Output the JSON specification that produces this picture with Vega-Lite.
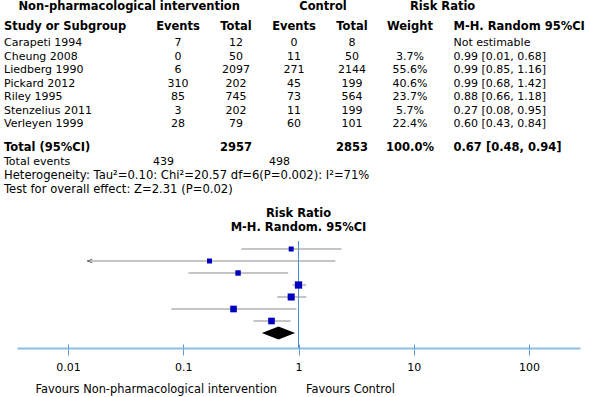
{
  "$schema": "https://vega.github.io/schema/vega-lite/v6.json",
  "width": 590,
  "height": 397,
  "autosize": "none",
  "padding": 0,
  "background": "white",
  "config": {
    "view": {"stroke": null},
    "text": {"font": "DejaVu Sans", "fontSize": 11, "baseline": "middle", "color": "#000000"},
    "axis": {"labelFont": "DejaVu Sans", "titleFont": "DejaVu Sans"}
  },
  "layer": [
    {
      "encoding": {
        "x": {
          "field": "col", "type": "nominal", "axis": null,
          "scale": {
            "type": "point", "padding": 0, "range": [4, 453.5],
            "domain": ["study", "grp1", "k2", "k3", "k4", "k5", "k6", "k7", "k8", "k9", "k10", "tev1", "ev1", "k13", "k14", "k15", "tot1", "k17", "k18", "tev2", "ev2", "k21", "ctrl", "k23", "tot2", "k25", "k26", "k27", "weight", "k29", "k30", "ci"]
          }
        },
        "text": {"field": "txt", "type": "nominal"}
      },
      "layer": [
        {
          "encoding": {
            "y": {"field": "row", "type": "nominal", "axis": null,
                  "scale": {"type": "point", "padding": 0, "domain": ["h1", "h2"], "range": [7, 27]}}
          },
          "layer": [
            {
              "data": {"values": [
                {"row": "h1", "col": "ctrl", "txt": "Control"},
                {"row": "h2", "col": "ev1", "txt": "Events"},
                {"row": "h2", "col": "tot1", "txt": "Total"},
                {"row": "h2", "col": "ev2", "txt": "Events"},
                {"row": "h2", "col": "tot2", "txt": "Total"},
                {"row": "h2", "col": "weight", "txt": "Weight"}
              ]},
              "mark": {"type": "text", "fontWeight": "bold", "fontSize": 11.5, "align": "center"}
            },
            {
              "data": {"values": [
                {"row": "h1", "col": "grp1", "txt": "Non-pharmacological intervention"},
                {"row": "h1", "col": "weight", "txt": "Risk Ratio"},
                {"row": "h2", "col": "study", "txt": "Study or Subgroup"},
                {"row": "h2", "col": "ci", "txt": "M-H. Random 95%CI"}
              ]},
              "mark": {"type": "text", "fontWeight": "bold", "fontSize": 11.5, "align": "left"}
            }
          ]
        },
        {
          "data": {"values": [
            {"study": "Carapeti 1994", "ev1": 7, "tot1": 12, "ev2": 0, "tot2": 8, "weight": "", "ci": "Not estimable"},
            {"study": "Cheung 2008", "ev1": 0, "tot1": 50, "ev2": 11, "tot2": 50, "weight": "3.7%", "ci": "0.99 [0.01, 0.68]"},
            {"study": "Liedberg 1990", "ev1": 6, "tot1": 2097, "ev2": 271, "tot2": 2144, "weight": "55.6%", "ci": "0.99 [0.85, 1.16]"},
            {"study": "Pickard 2012", "ev1": 310, "tot1": 202, "ev2": 45, "tot2": 199, "weight": "40.6%", "ci": "0.99 [0.68, 1.42]"},
            {"study": "Riley 1995", "ev1": 85, "tot1": 745, "ev2": 73, "tot2": 564, "weight": "23.7%", "ci": "0.88 [0.66, 1.18]"},
            {"study": "Stenzelius 2011", "ev1": 3, "tot1": 202, "ev2": 11, "tot2": 199, "weight": "5.7%", "ci": "0.27 [0.08, 0.95]"},
            {"study": "Verleyen 1999", "ev1": 28, "tot1": 79, "ev2": 60, "tot2": 101, "weight": "22.4%", "ci": "0.60 [0.43, 0.84]"}
          ]},
          "encoding": {
            "y": {"field": "study", "type": "nominal", "axis": null,
                  "scale": {"type": "point", "padding": 0, "range": [43, 124],
                            "domain": ["Carapeti 1994", "Cheung 2008", "Liedberg 1990", "Pickard 2012", "Riley 1995", "Stenzelius 2011", "Verleyen 1999"]}}
          },
          "layer": [
            {
              "transform": [{"fold": ["study", "ci"], "as": ["col", "txt"]}],
              "mark": {"type": "text", "align": "left"}
            },
            {
              "transform": [{"fold": ["ev1", "tot1", "ev2", "tot2", "weight"], "as": ["col", "txt"]}],
              "mark": {"type": "text", "align": "center"}
            }
          ]
        },
        {
          "encoding": {
            "y": {"field": "row", "type": "nominal", "axis": null,
                  "scale": {"type": "point", "padding": 0, "domain": ["total", "events", "het", "test"], "range": [148, 190]}}
          },
          "layer": [
            {
              "data": {"values": [
                {"row": "total", "col": "study", "txt": "Total (95%CI)"},
                {"row": "total", "col": "ci", "txt": "0.67 [0.48, 0.94]"}
              ]},
              "mark": {"type": "text", "fontWeight": "bold", "fontSize": 11.5, "align": "left"}
            },
            {
              "data": {"values": [
                {"row": "total", "col": "tot1", "txt": "2957"},
                {"row": "total", "col": "tot2", "txt": "2853"},
                {"row": "total", "col": "weight", "txt": "100.0%"}
              ]},
              "mark": {"type": "text", "fontWeight": "bold", "fontSize": 11.5, "align": "center"}
            },
            {
              "data": {"values": [
                {"row": "events", "col": "study", "txt": "Total events"}
              ]},
              "mark": {"type": "text", "align": "left"}
            },
            {
              "data": {"values": [
                {"row": "het", "col": "study", "txt": "Heterogeneity: Tau²=0.10: Chi²=20.57 df=6(P=0.002): I²=71%"},
                {"row": "test", "col": "study", "txt": "Test for overall effect: Z=2.31 (P=0.02)"}
              ]},
              "mark": {"type": "text", "align": "left", "fontSize": 11.6}
            },
            {
              "data": {"values": [
                {"row": "events", "col": "tev1", "txt": "439"},
                {"row": "events", "col": "tev2", "txt": "498"}
              ]},
              "mark": {"type": "text", "align": "center"}
            }
          ]
        }
      ],
      "resolve": {"scale": {"y": "independent"}}
    },
    {
      "encoding": {
        "y": {"field": "row", "type": "nominal", "axis": null,
              "scale": {"type": "point", "padding": 0, "range": [249, 333],
                        "domain": ["Carapeti 1994", "Cheung 2008", "Liedberg 1990", "Pickard 2012", "Riley 1995", "Stenzelius 2011", "Verleyen 1999", "Total"]}}
      },
      "layer": [
        {
          "data": {"values": [{"ref": 1}]},
          "mark": {"type": "rule", "color": "#4f8fd0", "strokeWidth": 1, "yOffset": -8, "y2Offset": 15},
          "encoding": {
            "x": {"field": "ref", "type": "quantitative",
                  "scale": {"type": "log", "domain": [0.003611, 276.9], "range": [17, 580], "nice": false},
                  "axis": {
                    "orient": "bottom", "offset": -49, "values": [0.01, 0.1, 1, 10, 100], "format": "~g",
                    "grid": false, "domain": true, "domainColor": "#8dbde3", "domainWidth": 2,
                    "ticks": true, "tickColor": "#5b9bd5", "tickSize": 7, "tickWidth": 1,
                    "labelFontSize": 11, "labelColor": "#000000", "labelPadding": 6, "labelFlush": false, "labelOverlap": false,
                    "title": "Favours Non-pharmacological intervention\u00a0\u00a0\u00a0\u00a0\u00a0\u00a0\u00a0\u00a0Favours Control",
                    "titleFontSize": 11.4, "titleFontWeight": "normal", "titleColor": "#000000",
                    "titleX": 35, "titleY": 41, "titleAlign": "left", "titleAnchor": "start", "titleBaseline": "middle"
                  }},
            "y": {"datum": "Carapeti 1994", "type": "nominal"},
            "y2": {"datum": "Total"}
          }
        },
        {
          "data": {"values": [{"ref": 1}]},
          "mark": {"type": "point", "opacity": 0},
          "encoding": {
            "x": {"field": "ref", "type": "quantitative",
                  "scale": {"type": "log", "domain": [0.003611, 276.9], "range": [17, 580], "nice": false},
                  "axis": {
                    "orient": "bottom", "offset": -53, "values": [0.01, 0.1, 1, 10, 100],
                    "grid": false, "domain": false, "labels": false, "title": null,
                    "ticks": true, "tickColor": "#5b9bd5", "tickSize": 4, "tickWidth": 1
                  }},
            "y": {"datum": "Total", "type": "nominal"}
          }
        },
        {
          "data": {"values": [
            {"row": "Carapeti 1994", "est": 0.864, "lo": 0.32, "hi": 2.36, "w": 3.7},
            {"row": "Cheung 2008", "est": 0.169, "lo": 0.0147, "hi": 2.09, "w": 3.7},
            {"row": "Liedberg 1990", "est": 0.299, "lo": 0.111, "hi": 0.814, "w": 5.7},
            {"row": "Pickard 2012", "est": 1.0, "lo": 0.887, "hi": 1.166, "w": 55.6},
            {"row": "Riley 1995", "est": 0.864, "lo": 0.653, "hi": 1.17, "w": 40.6},
            {"row": "Stenzelius 2011", "est": 0.273, "lo": 0.079, "hi": 0.96, "w": 23.7},
            {"row": "Verleyen 1999", "est": 0.583, "lo": 0.407, "hi": 0.853, "w": 22.4}
          ]},
          "layer": [
            {
              "mark": {"type": "rule", "color": "#8a8a8a", "strokeWidth": 1},
              "encoding": {
                "x": {"field": "lo", "type": "quantitative", "axis": null,
                      "scale": {"type": "log", "domain": [0.003611, 276.9], "range": [17, 580], "nice": false}},
                "x2": {"field": "hi"}
              }
            },
            {
              "transform": [{"filter": "datum.lo < 0.02"}],
              "mark": {"type": "point", "shape": "M0,0L1,-0.35M0,0L1,0.35", "size": 100, "filled": false, "stroke": "#6a6a6a", "strokeWidth": 1, "opacity": 1},
              "encoding": {
                "x": {"field": "lo", "type": "quantitative", "axis": null,
                      "scale": {"type": "log", "domain": [0.003611, 276.9], "range": [17, 580], "nice": false}}
              }
            },
            {
              "mark": {"type": "point", "shape": "square", "filled": true, "color": "#0000c0", "opacity": 1, "strokeWidth": 0},
              "encoding": {
                "x": {"field": "est", "type": "quantitative", "axis": null,
                      "scale": {"type": "log", "domain": [0.003611, 276.9], "range": [17, 580], "nice": false}},
                "size": {"field": "w", "type": "quantitative", "legend": null,
                         "scale": {"type": "log", "domain": [3.7, 55.6], "range": [25, 53]}}
              }
            }
          ]
        },
        {
          "data": {"values": [{"row": "Total", "est": 0.67, "lo": 0.48, "hi": 0.94}]},
          "mark": {"type": "point", "shape": "M-1,0L0,-0.39L1,0L0,0.39Z", "size": 1111, "filled": true, "color": "#000000", "opacity": 1, "strokeWidth": 0},
          "encoding": {
            "x": {"field": "est", "type": "quantitative", "axis": null,
                  "scale": {"type": "log", "domain": [0.003611, 276.9], "range": [17, 580], "nice": false}}
          }
        }
      ],
      "resolve": {"axis": {"x": "independent"}}
    },
    {
      "data": {"values": [
        {"row": "t1", "txt": "Risk Ratio", "ref": 1},
        {"row": "t2", "txt": "M-H. Random. 95%CI", "ref": 1}
      ]},
      "mark": {"type": "text", "fontWeight": "bold", "fontSize": 11.5, "align": "center"},
      "encoding": {
        "x": {"field": "ref", "type": "quantitative", "axis": null,
              "scale": {"type": "log", "domain": [0.003611, 276.9], "range": [17, 580], "nice": false}},
        "y": {"field": "row", "type": "nominal", "axis": null,
              "scale": {"type": "point", "padding": 0, "domain": ["t1", "t2"], "range": [214, 228]}},
        "text": {"field": "txt", "type": "nominal"}
      }
    }
  ],
  "resolve": {"scale": {"x": "independent", "y": "independent"}}
}
